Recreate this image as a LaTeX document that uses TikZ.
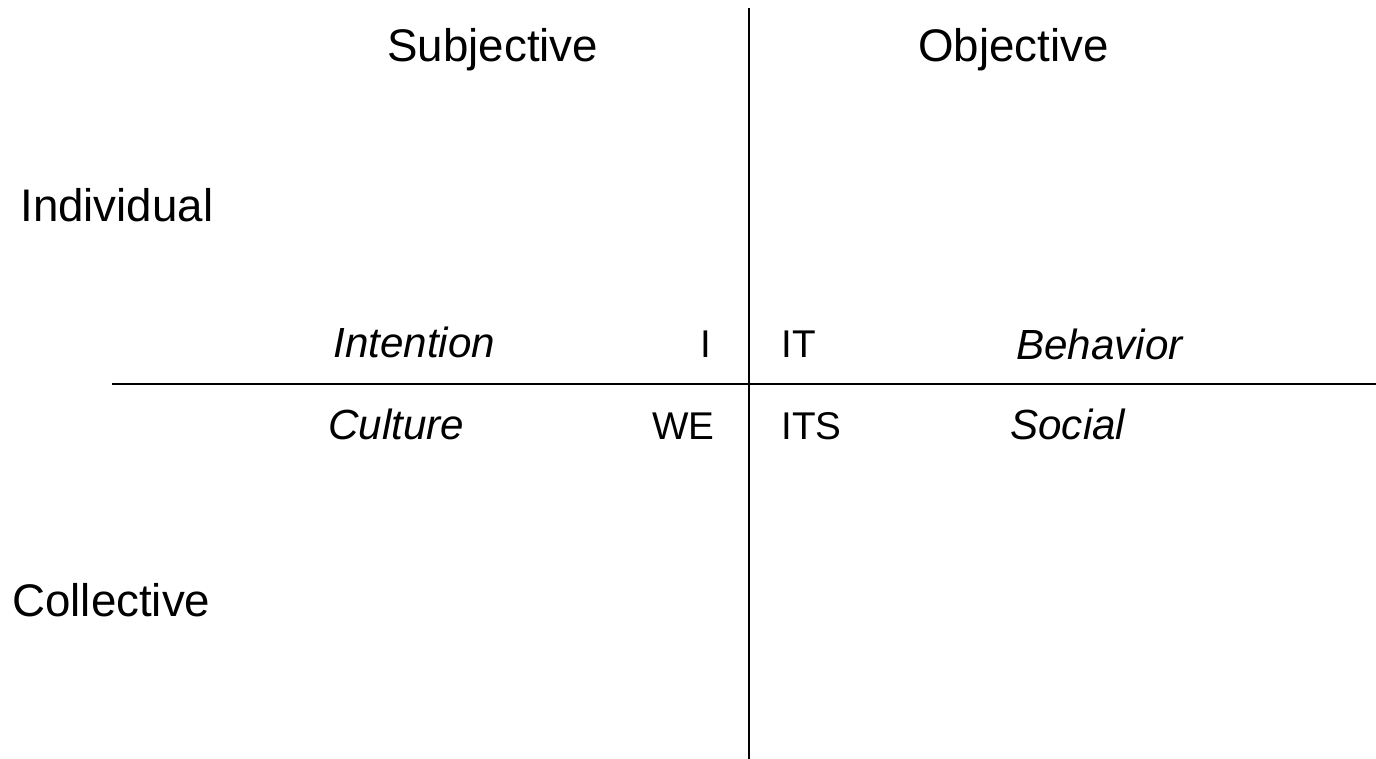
\documentclass[tikz,border=0pt]{standalone}
\usepackage{fontspec}
\setmainfont{Liberation Sans}
\usetikzlibrary{positioning}

\begin{document}
\begin{tikzpicture}[x=0.02cm,y=-0.02cm,
                    every node/.style={inner sep=0pt,anchor=base west},
                    axis/.style={draw,line width=1.2pt},
                    head/.style={font=\fontsize{26}{30}\selectfont},
                    quad/.style={font=\fontsize{24}{28}\selectfont\itshape},
                    tag/.style={font=\fontsize{22}{26}\selectfont}]

\useasboundingbox (0,0) rectangle (1376,759);

% axes
\coordinate (top) at (749,8);
\coordinate (bottom) at (749,759);
\coordinate (left) at (112,384);
\coordinate (right) at (1376,384);
\draw[axis] (top) -- (bottom);
\draw[axis] (left) -- (right);

% column and row headings
\node[head] (subj) at (387,62) {Subjective};
\node[head] (obj) at (918,62) {Objective};
\node[head] (indiv) at (20,222) {Individual};
\node[head] (coll) at (12,617) {Collective};

% quadrant names
\node[quad] (intent) at (333,358) {Intention};
\node[quad] (behav) at (1016,360) {Behavior};
\node[quad] (cult) at (328,440) {Culture};
\node[quad] (soc) at (1010,440) {Social};

% pronouns next to the axes
\node[tag] (i) at (700,358) {I};
\node[tag] (it) at (781,358) {IT};
\node[tag] (we) at (652,440) {WE};
\node[tag] (its) at (781,440) {ITS};

\end{tikzpicture}
\end{document}
